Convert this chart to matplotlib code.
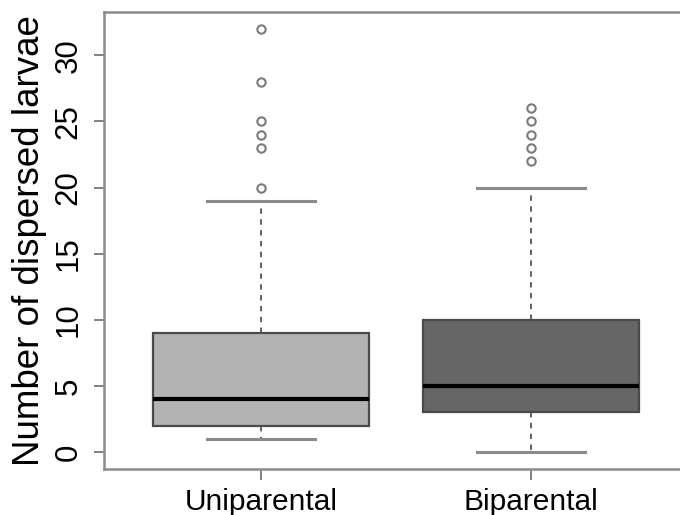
import matplotlib
matplotlib.use("Agg")
import matplotlib.pyplot as plt

groups = ["Uniparental", "Biparental"]
whisker_low = [1, 0]
q1 = [2, 3]
medians = [4, 5]
q3 = [9, 10]
whisker_high = [19, 20]
outliers = [[20, 23, 24, 25, 28, 32], [22, 23, 24, 25, 26]]
fills = ["#b3b3b3", "#666666"]

plt.rcParams["font.family"] = ["Liberation Sans", "DejaVu Sans"]

fig = plt.figure(figsize=(6.8, 5.15), dpi=100)
ax = fig.add_axes([0.1535, 0.0893, 0.858, 0.8874])

stats = []
for i, g in enumerate(groups):
    stats.append(dict(label=g, whislo=whisker_low[i], q1=q1[i], med=medians[i],
                      q3=q3[i], whishi=whisker_high[i], fliers=outliers[i]))

bp = ax.bxp(stats, positions=[1, 2], widths=0.8, patch_artist=True,
            boxprops=dict(edgecolor="#4a4a4a", linewidth=1.6),
            medianprops=dict(color="black", linewidth=3.0),
            whiskerprops=dict(color="#555555", linewidth=1.3, linestyle=(0, (3, 3))),
            capprops=dict(color="#8a8a8a", linewidth=2.2),
            flierprops=dict(marker="o", markersize=6, markerfacecolor="none",
                            markeredgecolor="#7a7a7a", markeredgewidth=1.5),
            capwidths=0.4)
for patch, c in zip(bp["boxes"], fills):
    patch.set_facecolor(c)

ax.set_xlim(0.42, 2.58)
ax.set_ylim(-1.28, 33.28)
ax.set_yticks([0, 5, 10, 15, 20, 25, 30])
ax.set_xticks([1, 2])
ax.set_xticklabels(groups)

for s in ["left", "top", "bottom"]:
    ax.spines[s].set_color("#8c8c8c")
    ax.spines[s].set_linewidth(1.8)
ax.spines["right"].set_visible(False)

ax.tick_params(axis="y", length=7, width=1.3, color="#777777", labelsize=22.5,
               pad=8, labelrotation=90)
ax.tick_params(axis="x", length=8, width=1.3, color="#777777", labelsize=21.5, pad=6)
for lab in ax.get_yticklabels():
    lab.set_va("center")

ax.set_ylabel("Number of dispersed larvae", fontsize=26.5, labelpad=5)

fig.savefig("out.png", dpi=100)
